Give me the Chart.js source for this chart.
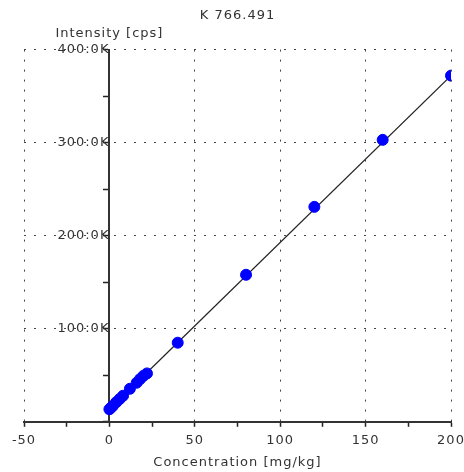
<!DOCTYPE html>
<html lang="en">
<head>
    <meta charset="UTF-8">
    <title>K 766.491</title>
    <script src="https://cdn.jsdelivr.net/npm/chart.js"></script>
    <style>
        html, body { margin: 0; padding: 0; background: #fff; }
        #wrap { width: 464px; height: 472px; }
    </style>
</head>
<body>

<div id="wrap"><canvas id="calChart" width="464" height="472"></canvas></div>

<script>
    // calibration standards (mg/kg) and measured intensity (cps)
    const concentration = [0, 1, 2, 4, 6, 8, 12, 16, 18, 20, 22, 40, 80, 120, 160, 200];
    const intensity = [13500, 15300, 17000, 21000, 24500, 28000, 35500, 42000, 46000, 49500, 52000, 85000, 158000, 231000, 303000, 372000];

    // fitted calibration line (end points)
    const fitX = [0, 200];
    const fitY = [13500, 372000];

    // axis ticks
    const xTickValues = [-50, 0, 50, 100, 150, 200];
    const yTickValues = [100000, 200000, 300000, 400000];
    const yTickLabels = ['100:0K', '200:0K', '300:0K', '400:0K'];

    const textColor = '#333';
    const fontBase = { family: 'DejaVu Sans', size: 13 };
    const dotted = [2, 8];

    // axis title over the y axis + wide letter spacing like the original
    const extras = {
        id: 'extras',
        beforeUpdate(chart) { chart.ctx.letterSpacing = '1px'; },
        beforeDraw(chart) { chart.ctx.letterSpacing = '1px'; },
        afterDraw(chart) {
            const ctx = chart.ctx;
            ctx.save();
            ctx.letterSpacing = '1px';
            ctx.font = '13px "DejaVu Sans"';
            ctx.fillStyle = textColor;
            ctx.textAlign = 'center';
            ctx.textBaseline = 'middle';
            ctx.fillText('Intensity [cps]', chart.scales.x.getPixelForValue(0), chart.chartArea.top - 16);
            ctx.restore();
        }
    };

    new Chart(document.getElementById('calChart'), {
        type: 'scatter',
        data: {
            datasets: [{
                label: 'Standards',
                data: concentration.map((c, i) => ({ x: c, y: intensity[i] })),
                backgroundColor: '#0000ff',
                borderColor: '#0000ff',
                pointRadius: 5.5,
                pointHoverRadius: 5.5,
                order: 0
            }, {
                label: 'Fit',
                type: 'line',
                data: fitX.map((c, i) => ({ x: c, y: fitY[i] })),
                borderColor: '#222',
                borderWidth: 1.2,
                pointRadius: 0,
                fill: false,
                order: 1
            }]
        },
        options: {
            responsive: false,
            animation: false,
            layout: { padding: { left: 24, right: 13, top: 0, bottom: 2 } },
            plugins: {
                legend: { display: false },
                tooltip: { enabled: false },
                title: {
                    display: true,
                    text: 'K 766.491',
                    fullSize: false,
                    color: textColor,
                    font: { ...fontBase, weight: 'normal' },
                    padding: { top: 8, bottom: 26 }
                }
            },
            scales: {
                x: {
                    type: 'linear',
                    min: -50,
                    max: 200,
                    afterFit: s => { s.paddingLeft = 0; s.paddingRight = 0; },
                    ticks: {
                        stepSize: 25,
                        color: textColor,
                        font: fontBase,
                        padding: 6,
                        maxRotation: 0,
                        autoSkip: false,
                        callback: v => xTickValues.includes(v) ? String(v) : ''
                    },
                    grid: {
                        color: c => (c.tick && c.tick.value % 50 === 0 && c.tick.value !== 0) ? '#444' : 'rgba(0,0,0,0)',
                        tickColor: '#222',
                        tickBorderDash: [],
                        tickLength: 5,
                        tickWidth: 1.5
                    },
                    border: { display: true, color: '#333', width: 2, dash: dotted },
                    title: {
                        display: true,
                        text: 'Concentration [mg/kg]',
                        color: textColor,
                        font: fontBase,
                        padding: { top: 0, bottom: 0 }
                    }
                },
                y: {
                    type: 'linear',
                    position: { x: 0 },
                    min: 0,
                    max: 400000,
                    afterFit: s => { s.paddingTop = 0; s.paddingBottom = 0; },
                    ticks: {
                        stepSize: 50000,
                        color: textColor,
                        font: fontBase,
                        padding: 4,
                        autoSkip: false,
                        callback: v => {
                            const i = yTickValues.indexOf(v);
                            return i >= 0 ? yTickLabels[i] : '';
                        }
                    },
                    grid: {
                        color: c => (c.tick && c.tick.value % 100000 === 0 && c.tick.value !== 0) ? '#444' : 'rgba(0,0,0,0)',
                        tickColor: '#222',
                        tickBorderDash: [],
                        tickLength: 5,
                        tickWidth: 1.5
                    },
                    border: { display: true, color: '#333', width: 2, dash: dotted }
                }
            }
        },
        plugins: [extras]
    });
</script>

</body>
</html>
